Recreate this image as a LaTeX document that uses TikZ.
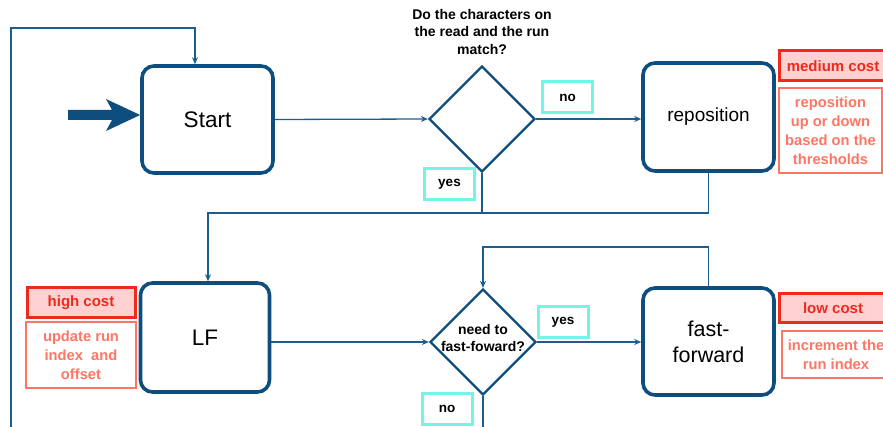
\documentclass[tikz,border=0pt]{standalone}
\usepackage{fontspec}
\setmainfont{Liberation Sans}
\usetikzlibrary{shapes.geometric,arrows.meta}
\definecolor{boxblue}{HTML}{0E4E7E}
\definecolor{lineblue}{HTML}{1B5D8C}
\definecolor{cyanb}{HTML}{72F5E6}
\definecolor{redb}{HTML}{EE2A1C}
\definecolor{redfill}{HTML}{FFD1D1}
\definecolor{salmon}{HTML}{FF7563}
\tikzset{
  procbox/.style={draw=boxblue, line width=3.6pt, rounded corners=12pt, fill=white,
    minimum width=#1, minimum height=107pt, inner sep=0pt, align=center,
    font=\fontsize{22.5}{24}\selectfont},
  procbox/.default=131pt,
  decision/.style={diamond, draw=boxblue, line width=2.2pt, aspect=1,
    minimum width=106pt, minimum height=106pt, inner sep=0pt},
  conn/.style={draw=lineblue, line width=1.3pt, -{Stealth[length=7pt,width=6pt]}},
  plain/.style={draw=lineblue, line width=1.3pt},
  yn/.style={draw=cyanb, line width=3pt, minimum width=50pt, minimum height=31pt,
    inner sep=0pt, font=\bfseries\fontsize{13.5}{16}\selectfont},
  cost/.style={draw=redb, fill=redfill, line width=3pt, minimum width=108pt,
    minimum height=30pt, inner sep=0pt, text=redb, font=\bfseries\fontsize{15}{18}\selectfont},
  desc/.style={draw=salmon, line width=1.5pt, inner sep=0pt, text=salmon, align=center,
    font=\bfseries\fontsize{14.7}{19}\selectfont},
  qtext/.style={align=center, font=\bfseries\fontsize{14}{17.5}\selectfont, inner sep=0pt}
}
\begin{document}
\begin{tikzpicture}[x=1pt,y=-1pt]
\useasboundingbox (0,0) rectangle (883,427);
\clip (0,0) rectangle (883,427);
% process boxes
\node[procbox] (start) at (207.5,119.5) {Start};
\node[procbox, minimum height=108pt, font=\fontsize{19}{22}\selectfont] (rep) at (708.5,117) {reposition};
\node[procbox=129pt, minimum height=109pt] (lf) at (205,337.5) {LF};
\node[procbox, font=\fontsize{21.5}{26}\selectfont] (ff) at (708.5,341.5) {fast-\\forward};
% decisions
\node[decision] (d1) at (482,119) {};
\node[decision] (d2) at (483,342) {};
\node[qtext] (q2) at (483,338) {need to\\fast-foward?};
\node[qtext] (q1) at (482,32) {Do the characters on\\the read and the run\\match?};
% yes / no labels
\node[yn] (no1) at (567.5,97.5) {no};
\node[yn] (yes1) at (449.5,184) {yes};
\node[yn] (yes2) at (563,322.5) {yes};
\node[yn] (no2) at (447,409) {no};
% cost labels
\node[cost] (medc) at (833,66) {medium cost};
\node[desc, minimum width=103pt, minimum height=85pt] (repd) at (830.5,130.5) {reposition\\up or down\\based on the\\thresholds};
\node[cost] (highc) at (81,303) {high cost};
\node[desc, minimum width=110pt, minimum height=66pt] (lfd) at (81,355) {update run\\index~ and\\offset};
\node[cost, minimum height=29pt] (lowc) at (833,308.5) {low cost};
\node[desc, minimum width=108pt, minimum height=47pt] (ffd) at (836,354.5) {increment the\\run index};
% big entry arrow
\coordinate (bigA) at (68,115);
\fill[boxblue] (bigA) ++(0,-5) -- (112,110) -- (106,99) -- (start.west |- bigA) -- (106,131) -- (112,120) -- (68,120) -- cycle;
% loop from left
\coordinate (loopB) at (11,440);
\coordinate (loopT) at (195,28);
\draw[conn] (loopB) |- (loopT) -- (loopT |- start.north);
% connectors
\draw[conn] (start.east) -- (d1.west);
\draw[conn] (d1.east) -- (d1.east -| rep.west);
\coordinate (j) at (208,213);
\draw[conn] (rep.south) |- (j) -- (j |- lf.north);
\draw[plain] (d1.south) -- (d1.south |- j);
\draw[conn] (lf.east |- d2.west) -- (d2.west);
\draw[conn] (d2.east) -- (d2.east -| ff.west);
\coordinate (k) at (483,247);
\draw[conn] (ff.north) |- (k) -- (d2.north);
\coordinate (d2end) at (483,440);
\draw[plain] (d2.south) -- (d2end);
\end{tikzpicture}
\end{document}
